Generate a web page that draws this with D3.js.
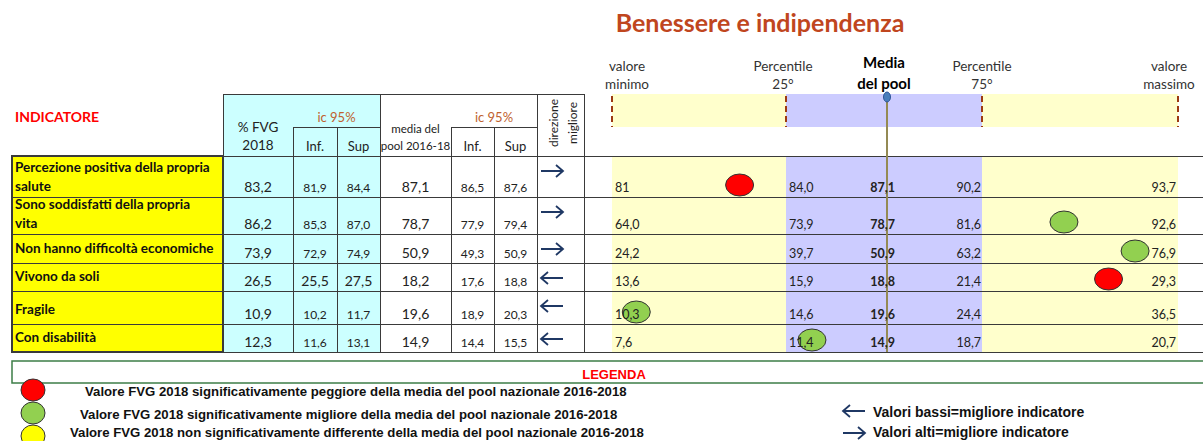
<!DOCTYPE html>
<html><head><meta charset="utf-8">
<script src="https://cdn.jsdelivr.net/npm/d3@7"></script>
<style>
body{margin:0;background:#fff}
svg{display:block}
text{font-family:Lato,"Noto Sans",sans-serif}
.arial{font-family:"Liberation Sans",Arial,sans-serif}
</style>
</head><body><svg id="c" width="1203" height="441"></svg>
<script>
// ---------------- DATA ----------------
const indicators = [
  ["Percezione positiva della propria", "salute"],
  ["Sono soddisfatti della propria", "vita"],
  ["Non hanno difficoltà economiche"],
  ["Vivono da soli"],
  ["Fragile"],
  ["Con disabilità"]
];
const fvg      = [83.2, 86.2, 73.9, 26.5, 10.9, 12.3];
const fvgLow   = [81.9, 85.3, 72.9, 25.5, 10.2, 11.6];
const fvgHigh  = [84.4, 87.0, 74.9, 27.5, 11.7, 13.1];
const poolMean = [87.1, 78.7, 50.9, 18.2, 19.6, 14.9];
const poolLow  = [86.5, 77.9, 49.3, 17.6, 18.9, 14.4];
const poolHigh = [87.6, 79.4, 50.9, 18.8, 20.3, 15.5];
const betterDirection = ["high", "high", "high", "low", "low", "low"];
const spineMin  = [81, 64.0, 24.2, 13.6, 10.3, 7.6];
const spineMinLabels = ["81", "64,0", "24,2", "13,6", "10,3", "7,6"];
const spineP25  = [84.0, 73.9, 39.7, 15.9, 14.6, 11.4];
const spineMean = [87.1, 78.7, 50.9, 18.8, 19.6, 14.9];
const spineP75  = [90.2, 81.6, 63.2, 21.4, 24.4, 18.7];
const spineMax  = [93.7, 92.6, 76.9, 29.3, 36.5, 20.7];
const status = ["worse", "better", "better", "worse", "better", "better"];
const spineHeader = [["valore","minimo"],["Percentile","25°"],["Media","del pool"],["Percentile","75°"],["valore","massimo"]];
const legendItems = [
  {key:"worse",  text:"Valore FVG 2018 significativamente peggiore  della media del pool nazionale 2016-2018"},
  {key:"better", text:"Valore FVG 2018 significativamente migliore della media del pool nazionale 2016-2018"},
  {key:"same",   text:"Valore FVG 2018 non significativamente differente della media del pool nazionale 2016-2018"}
];
const arrowLegend = [
  {dir:"low",  text:"Valori bassi=migliore indicatore"},
  {dir:"high", text:"Valori alti=migliore indicatore"}
];

// ---------------- LAYOUT / STYLE ----------------
const L = {
  tableLeft: 12, headTop: 94, headMid: 127, headBot: 156,
  colW: [211, 70, 44, 43, 71, 43, 43, 47],
  rowH: [41, 37, 29, 28, 33, 28],
  chartRight: 1203,
  spineRange: [612, 786, 887, 982, 1178]
};
const C = {
  label: "#FFFF00", cyan: "#CCFFFF", bandY: "#FFFFCC", bandP: "#CCCCFF",
  grid: "#3a3a3a", dash: "#9C3B12", median: "#948A54", arrow: "#1F3864",
  title: "#C0461E", ic: "#C0622F",
  status: {worse: "#FF0000", better: "#92D050", same: "#FFFF00"}
};
const fmt = d3.formatLocale({decimal: ",", thousands: ".", grouping: [3], currency: ["", "€"]}).format(".1f");

const svg = d3.select("#c");
const colE = [L.tableLeft]; L.colW.forEach(w => colE.push(colE[colE.length-1] + w));
const rowE = [L.headBot];   L.rowH.forEach(h => rowE.push(rowE[rowE.length-1] + h));
const tableBot = rowE[rowE.length-1];
const colMid = i => (colE[i] + colE[i+1]) / 2;

const rows = indicators.map((lab, i) => ({
  i, lab, top: rowE[i], bot: rowE[i+1],
  x: d3.scaleLinear().domain([spineMin[i], spineP25[i], spineMean[i], spineP75[i], spineMax[i]]).range(L.spineRange)
}));
// header reference scale (standardised positions of min, p25, mean, p75, max)
const hx = d3.scalePoint().domain(d3.range(5)).range([0,1]);
const headerScale = d3.scaleLinear().domain(hx.domain().map(hx)).range(L.spineRange);
const anchor = k => headerScale(hx(k));

// ---------------- TITLE ----------------
svg.append("text").attr("x", 760).attr("y", 32).attr("text-anchor","middle")
  .attr("font-size", 25).attr("font-weight", "bold").attr("fill", C.title)
  .text("Benessere e indipendenza");

svg.append("text").attr("x", 15).attr("y", 122).attr("font-size", 14).attr("font-weight","bold")
  .attr("fill", "#FF0000").text("INDICATORE");

// ---------------- CELL FILLS ----------------
svg.append("rect").attr("x", colE[0]).attr("y", rowE[0]).attr("width", colE[1]-colE[0]).attr("height", tableBot-rowE[0]).attr("fill", C.label);
svg.append("rect").attr("x", colE[1]).attr("y", L.headTop).attr("width", colE[4]-colE[1]).attr("height", tableBot-L.headTop).attr("fill", C.cyan);

// ---------------- SPINE HEADER ----------------
const hdr = svg.append("g");
[[0,1,C.bandY],[1,3,C.bandP],[3,4,C.bandY]].forEach(([a,b,c]) =>
  hdr.append("rect").attr("x", anchor(a)).attr("y", L.headTop).attr("width", anchor(b)-anchor(a)).attr("height", L.headMid-L.headTop).attr("fill", c));
[0,1,3,4].forEach(k => hdr.append("line").attr("x1", anchor(k)).attr("x2", anchor(k))
  .attr("y1", L.headTop+2).attr("y2", L.headMid).attr("stroke", C.dash).attr("stroke-width", 2).attr("stroke-dasharray","6,4"));
const hdrOffset = [15, -3, -3, 0, -9];
spineHeader.forEach((lines, k) => {
  const bold = k === 2;
  lines.forEach((t, j) => hdr.append("text").attr("x", anchor(k) + hdrOffset[k]).attr("y", j ? 89 : (bold ? 68 : 71))
    .attr("text-anchor","middle").attr("font-size", bold ? 15 : 13.5).attr("font-weight", bold ? "bold" : "normal")
    .attr("fill", bold ? "#000" : "#333").text(t));
});

// ---------------- ROW BANDS ----------------
rows.forEach(r => {
  const i = r.i, g = svg.append("g");
  [[spineMin[i], spineP25[i], C.bandY],[spineP25[i], spineP75[i], C.bandP],[spineP75[i], spineMax[i], C.bandY]].forEach(([a,b,c]) =>
    g.append("rect").attr("x", r.x(a)).attr("y", r.top).attr("width", r.x(b)-r.x(a)).attr("height", r.bot-r.top).attr("fill", c));
});

// ---------------- GRID ----------------
const grid = svg.append("g").attr("stroke", C.grid).attr("stroke-width", 1).attr("shape-rendering","crispEdges");
rowE.forEach(y => grid.append("line").attr("x1", L.tableLeft).attr("x2", L.chartRight).attr("y1", y).attr("y2", y));
colE.forEach((x, k) => grid.append("line").attr("x1", x).attr("x2", x).attr("y1", k === 0 ? rowE[0] : ([2,3,5,6].includes(k) ? L.headMid : L.headTop)).attr("y2", tableBot));
grid.append("line").attr("x1", colE[1]).attr("x2", colE[8]).attr("y1", L.headTop).attr("y2", L.headTop);
[[2,4],[5,7]].forEach(([a,b]) => grid.append("line").attr("x1", colE[a]).attr("x2", colE[b]).attr("y1", L.headMid).attr("y2", L.headMid));
grid.append("rect").attr("x", colE[0]).attr("y", rowE[0]).attr("width", colE[1]-colE[0]).attr("height", tableBot-rowE[0]).attr("fill","none").attr("stroke-width",1.5);

// ---------------- TABLE HEADER TEXT ----------------
const th = svg.append("g").attr("font-size", 13).attr("fill", "#222").attr("text-anchor","middle");
th.append("text").attr("x", colMid(1)).attr("y", 132).attr("font-size", 13.5).text("% FVG");
th.append("text").attr("x", colMid(1)).attr("y", 150).attr("font-size", 13.5).text("2018");
[[2,4],[5,7]].forEach(([a,b]) => {
  th.append("text").attr("x", (colE[a]+colE[b])/2).attr("y", 122).attr("fill", C.ic).text("ic 95%");
  th.append("text").attr("x", colMid(a)).attr("y", 151).text("Inf.");
  th.append("text").attr("x", colMid(a+1)).attr("y", 151).text("Sup");
});
th.append("text").attr("x", colMid(4)).attr("y", 133).attr("font-size", 11.5).text("media del");
th.append("text").attr("x", colMid(4)).attr("y", 150).attr("font-size", 11.5).text("pool 2016-18");
const cyc = (L.headTop + L.headBot) / 2 - 2;
th.append("text").attr("transform", `translate(${colMid(7)-7},${cyc}) rotate(-90)`).attr("dy", 4).attr("font-size", 12).text("direzione");
th.append("text").attr("transform", `translate(${colMid(7)+16},${cyc}) rotate(-90)`).attr("font-size", 12).text("migliore");

// ---------------- ROW TEXTS ----------------
const arrowPath = (x0, x1, y, dir) => {
  const tip = dir === "high" ? x1 : x0, back = dir === "high" ? -7 : 7;
  return `M${x0},${y}L${x1},${y}M${tip+back},${y-6}L${tip},${y}L${tip+back},${y+6}`;
};
rows.forEach(r => {
  const i = r.i, g = svg.append("g");
  const n = r.lab.length;
  r.lab.forEach((t, j) => g.append("text").attr("x", L.tableLeft + 3)
    .attr("y", n === 2 ? (j ? r.bot - 6 : r.bot - 25) : r.bot - 10)
    .attr("font-size", 13.5).attr("font-weight","bold").attr("fill","#111").text(t));
  const vy = r.bot - 5;
  const big = 14, small = 12;
  const ciSize = i === 3 ? big : small;
  [[1, fvg[i], big],[2, fvgLow[i], ciSize],[3, fvgHigh[i], ciSize],[4, poolMean[i], big],[5, poolLow[i], small],[6, poolHigh[i], small]]
    .forEach(([c, v, fs]) => g.append("text").attr("x", colMid(c)).attr("y", vy).attr("text-anchor","middle")
      .attr("font-size", fs).attr("fill","#222").text(fmt(v)));
  g.append("path").attr("d", arrowPath(colE[7]+4, colE[7]+26, r.top + 15, betterDirection[i]))
    .attr("fill","none").attr("stroke", C.arrow).attr("stroke-width", 1.8);
});

// ---------------- MEDIAN LINE ----------------
const mx = anchor(2);
svg.append("line").attr("x1", mx).attr("x2", mx).attr("y1", L.headTop + 3).attr("y2", tableBot)
  .attr("stroke", C.median).attr("stroke-width", 2);
svg.append("ellipse").attr("cx", mx).attr("cy", L.headTop + 3).attr("rx", 3.5).attr("ry", 5)
  .attr("fill", "#4A7EBB").attr("stroke", "#2F5597");

// ---------------- FVG MARKERS ----------------
rows.forEach(r => {
  svg.append("ellipse").attr("cx", r.x(fvg[r.i])).attr("cy", r.bot - 12).attr("rx", 14).attr("ry", 11)
    .attr("fill", C.status[status[r.i]]).attr("stroke", "#333").attr("stroke-width", 1);
});

// ---------------- SPINE LABELS ----------------
rows.forEach(r => {
  const i = r.i, g = svg.append("g").attr("font-size", 12.5).attr("fill", "#222");
  const y = r.bot - 5;
  g.append("text").attr("x", r.x(spineMin[i]) + 3).attr("y", y).text(spineMinLabels[i]);
  g.append("text").attr("x", r.x(spineP25[i]) + 3).attr("y", y).text(fmt(spineP25[i]));
  g.append("text").attr("x", r.x(spineMean[i]) + 8).attr("y", y).attr("text-anchor","end").attr("font-weight","bold").text(fmt(spineMean[i]));
  g.append("text").attr("x", r.x(spineP75[i]) - 1).attr("y", y).attr("text-anchor","end").text(fmt(spineP75[i]));
  g.append("text").attr("x", r.x(spineMax[i]) - 2).attr("y", y).attr("text-anchor","end").text(fmt(spineMax[i]));
});

// ---------------- LEGEND ----------------
svg.append("rect").attr("x", L.tableLeft).attr("y", 361).attr("width", 1200).attr("height", 22)
  .attr("fill","none").attr("stroke", "#3C7D47").attr("stroke-width", 1.5);
svg.append("text").attr("class","arial").attr("x", 614).attr("y", 379).attr("text-anchor","middle")
  .attr("font-size", 13).attr("font-weight","bold").attr("fill","#FF0000").text("LEGENDA");
const legX = [85, 80, 70];
const legY = [390, 413, 436];
legendItems.forEach((d, k) => {
  svg.append("ellipse").attr("cx", 33).attr("cy", legY[k]).attr("rx", 12).attr("ry", 11)
    .attr("fill", C.status[d.key]).attr("stroke", "#333");
  svg.append("text").attr("class","arial").attr("x", legX[k]).attr("y", Math.min(legY[k] + 6, 437)).attr("font-size", 13.2)
    .attr("font-weight","bold").attr("fill","#111").text(d.text);
});
arrowLegend.forEach((d, k) => {
  const y = 411 + k * 22;
  svg.append("path").attr("d", arrowPath(843, 865, y, d.dir)).attr("fill","none").attr("stroke", C.arrow).attr("stroke-width", 1.8);
  svg.append("text").attr("class","arial").attr("x", 873).attr("y", Math.min(y + 6, 437)).attr("font-size", 14)
    .attr("font-weight","bold").attr("fill","#111").text(d.text);
});
</script>
</body></html>
